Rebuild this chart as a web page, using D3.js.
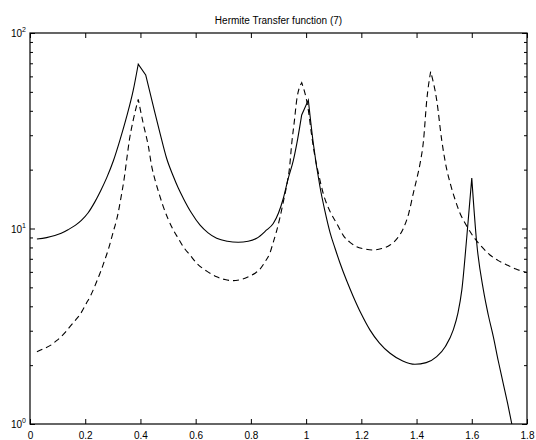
<!DOCTYPE html>
<html>
<head>
<meta charset="utf-8">
<script src="https://cdn.jsdelivr.net/npm/d3@7"></script>
<style>
  html, body { margin: 0; padding: 0; background: #fff; }
  svg { display: block; }
  text { font-family: Arial, "Liberation Sans", Helvetica, sans-serif; fill: #000; }
</style>
</head>
<body>
<svg id="chart" width="536" height="440"></svg>
<script>
// Transfer function magnitude, two responses over normalised frequency
const solidX = [0.025, 0.06, 0.09, 0.113, 0.14, 0.165, 0.186, 0.21, 0.234, 0.256, 0.278, 0.302, 0.326, 0.35, 0.374,
  0.392, 0.419, 0.447, 0.471, 0.495, 0.519, 0.537, 0.555, 0.585, 0.616, 0.645, 0.676, 0.715, 0.754, 0.79,
  0.821, 0.857, 0.881, 0.9, 0.917, 0.935, 0.954, 0.97, 0.984, 1.008, 1.026, 1.05, 1.068, 1.087, 1.105,
  1.123, 1.147, 1.171, 1.2, 1.231, 1.265, 1.304, 1.35, 1.394, 1.435, 1.473, 1.505, 1.533, 1.55, 1.564,
  1.582, 1.600, 1.618, 1.642, 1.66, 1.678, 1.696, 1.714, 1.73, 1.745, 1.76];
const solidY = [8.84, 8.98, 9.2, 9.45, 9.9, 10.4, 11.0, 12.0, 13.6, 15.6, 18.2, 22.2, 28.4, 37.3, 51,
  69.2, 61, 42, 30.7, 22.8, 18.5, 16.1, 14.3, 12.0, 10.4, 9.5, 8.91, 8.6, 8.50, 8.6,
  8.91, 9.83, 10.6, 12.0, 14.2, 18.0, 22.4, 29, 38.1, 45.4, 27.3, 16.4, 12.3, 9.5, 7.9,
  6.64, 5.4, 4.48, 3.65, 3.03, 2.6, 2.30, 2.1, 2.02, 2.06, 2.21, 2.5, 3.03, 3.7, 4.85,
  9.08, 18.1, 8.4, 4.85, 3.6, 2.80, 2.1, 1.61, 1.27, 1.0, 0.8];
// samples where the solid response turns sharply (resonance tips)
const solidCorners = [0.392, 0.419, 0.984, 1.008, 1.600];

const dashedX = [0.025, 0.05, 0.077, 0.095, 0.113, 0.13, 0.15, 0.165, 0.18, 0.204, 0.22, 0.234, 0.246, 0.258, 0.27,
  0.283, 0.30, 0.319, 0.328, 0.342, 0.35, 0.36, 0.374, 0.392, 0.41, 0.429, 0.441, 0.453, 0.468, 0.483,
  0.5, 0.519, 0.537, 0.555, 0.58, 0.604, 0.64, 0.676, 0.706, 0.736, 0.767, 0.797, 0.815, 0.833, 0.851,
  0.869, 0.881, 0.893, 0.906, 0.918, 0.93, 0.94, 0.948, 0.957, 0.966, 0.984, 1.008, 1.02, 1.032, 1.047,
  1.062, 1.087, 1.111, 1.135, 1.159, 1.183, 1.213, 1.243, 1.274, 1.304, 1.33, 1.352, 1.372, 1.388, 1.401,
  1.413, 1.425, 1.437, 1.451, 1.473, 1.491, 1.505, 1.522, 1.54, 1.557, 1.58, 1.606, 1.635, 1.666, 1.696,
  1.727, 1.76, 1.8];
const dashedY = [2.34, 2.43, 2.54, 2.66, 2.80, 2.97, 3.21, 3.4, 3.61, 4.14, 4.55, 5.04, 5.55, 6.13, 6.85,
  7.76, 9.45, 11.96, 14.0, 18.4, 22.4, 28.4, 35.9, 45.8, 34.5, 26.2, 20.7, 17.7, 15.0, 12.9,
  11.2, 9.83, 8.9, 8.07, 7.3, 6.64, 6.05, 5.66, 5.48, 5.41, 5.5, 5.71, 5.9, 6.2, 6.75,
  7.5, 8.5, 9.7, 11.5, 13.8, 16.7, 20.5, 27.3, 35, 45.4, 55.7, 40.4, 30, 23.3, 18.5,
  15.1, 12.2, 10.6, 9.2, 8.5, 8.07, 7.85, 7.76, 7.9, 8.23, 8.9, 10.0, 12.0, 15.1, 18,
  21.6, 28, 45.4, 63.4, 45.4, 28.4, 21.5, 17.0, 14.0, 12.0, 10.4, 9.08, 8.1, 7.32, 6.85,
  6.51, 6.2, 5.95];
const dashedCorners = [0.392, 0.984, 1.451];

const xTicks = [0, 0.2, 0.4, 0.6, 0.8, 1, 1.2, 1.4, 1.6, 1.8];
const xTickLabels = ["0", "0.2", "0.4", "0.6", "0.8", "1", "1.2", "1.4", "1.6", "1.8"];
const yMajor = [1, 10, 100];
const yExponents = ["0", "1", "2"];
const yMinor = [2, 3, 4, 5, 6, 7, 8, 9, 20, 30, 40, 50, 60, 70, 80, 90];
const title = "Hermite Transfer function (7)";

const plotLeft = 30, plotRight = 527, plotTop = 33, plotBottom = 424;
const svg = d3.select("#chart");

const x = d3.scaleLinear().domain([0, 1.8]).range([plotLeft, plotRight]);
const y = d3.scaleLog().domain([1, 100]).range([plotBottom, plotTop]);

svg.append("defs").append("clipPath").attr("id", "plot-clip")
  .append("rect").attr("x", plotLeft).attr("y", plotTop)
  .attr("width", plotRight - plotLeft).attr("height", plotBottom - plotTop);

// Title
svg.append("text").attr("x", (plotLeft + plotRight) / 2).attr("y", 24)
  .attr("text-anchor", "middle").attr("font-size", 10).text(title);

function styleAxis(g) {
  g.select(".domain").remove();
  g.selectAll(".tick line").attr("stroke", "#000").attr("stroke-width", 1);
}

// x ticks: bottom with labels, top without
const xLabel = d => xTickLabels[xTicks.indexOf(d)];
svg.append("g").attr("transform", `translate(0,${plotBottom})`)
  .call(d3.axisBottom(x).tickValues(xTicks).tickSize(-5).tickPadding(8).tickFormat(xLabel))
  .call(styleAxis)
  .selectAll("text").attr("font-size", 10).attr("fill", "#000");
svg.append("g").attr("transform", `translate(0,${plotTop})`)
  .call(d3.axisTop(x).tickValues(xTicks).tickSize(-5).tickFormat(""))
  .call(styleAxis);

// y ticks: major and minor, left and right, pointing inward
svg.append("g").attr("transform", `translate(${plotLeft},0)`)
  .call(d3.axisLeft(y).tickValues(yMajor).tickSize(-5).tickFormat(""))
  .call(styleAxis);
svg.append("g").attr("transform", `translate(${plotLeft},0)`)
  .call(d3.axisLeft(y).tickValues(yMinor).tickSize(-3).tickFormat(""))
  .call(styleAxis);
svg.append("g").attr("transform", `translate(${plotRight},0)`)
  .call(d3.axisRight(y).tickValues(yMajor).tickSize(-5).tickFormat(""))
  .call(styleAxis);
svg.append("g").attr("transform", `translate(${plotRight},0)`)
  .call(d3.axisRight(y).tickValues(yMinor).tickSize(-3).tickFormat(""))
  .call(styleAxis);

// y labels as powers of ten
yMajor.forEach((v, i) => {
  const t = svg.append("text").attr("x", 26).attr("y", y(v) + 4)
    .attr("text-anchor", "end").attr("font-size", 10);
  t.append("tspan").text("10");
  t.append("tspan").attr("dy", -5).attr("font-size", 7).text(yExponents[i]);
});

// Smooth between resonance tips, sharp at the tips themselves:
// each stretch between corners is drawn monotone, then joined into one path.
const smooth = d3.line()
  .x(d => x(d[0]))
  .y(d => y(d[1]))
  .curve(d3.curveMonotoneX);

function cornerPath(xs, ys, corners) {
  const pts = xs.map((v, i) => [v, ys[i]]);
  const pieces = [];
  let start = 0;
  pts.forEach((p, i) => {
    if (i > start && (corners.includes(p[0]) || i === pts.length - 1)) {
      pieces.push(pts.slice(start, i + 1));
      start = i;
    }
  });
  return pieces.map((seg, k) => {
    const d = smooth(seg);
    return k === 0 ? d : "L" + d.slice(1);
  }).join("");
}

const plot = svg.append("g").attr("clip-path", "url(#plot-clip)");
plot.append("path")
  .attr("d", cornerPath(solidX, solidY, solidCorners))
  .attr("fill", "none").attr("stroke", "#000")
  .attr("stroke-width", 1.1).attr("stroke-linejoin", "miter");
plot.append("path")
  .attr("d", cornerPath(dashedX, dashedY, dashedCorners))
  .attr("fill", "none").attr("stroke", "#000").attr("stroke-width", 1.1)
  .attr("stroke-dasharray", "6,4");

// Axes box
svg.append("rect").attr("x", plotLeft).attr("y", plotTop)
  .attr("width", plotRight - plotLeft).attr("height", plotBottom - plotTop)
  .attr("fill", "none").attr("stroke", "#000").attr("stroke-width", 1.2);
</script>
</body>
</html>
